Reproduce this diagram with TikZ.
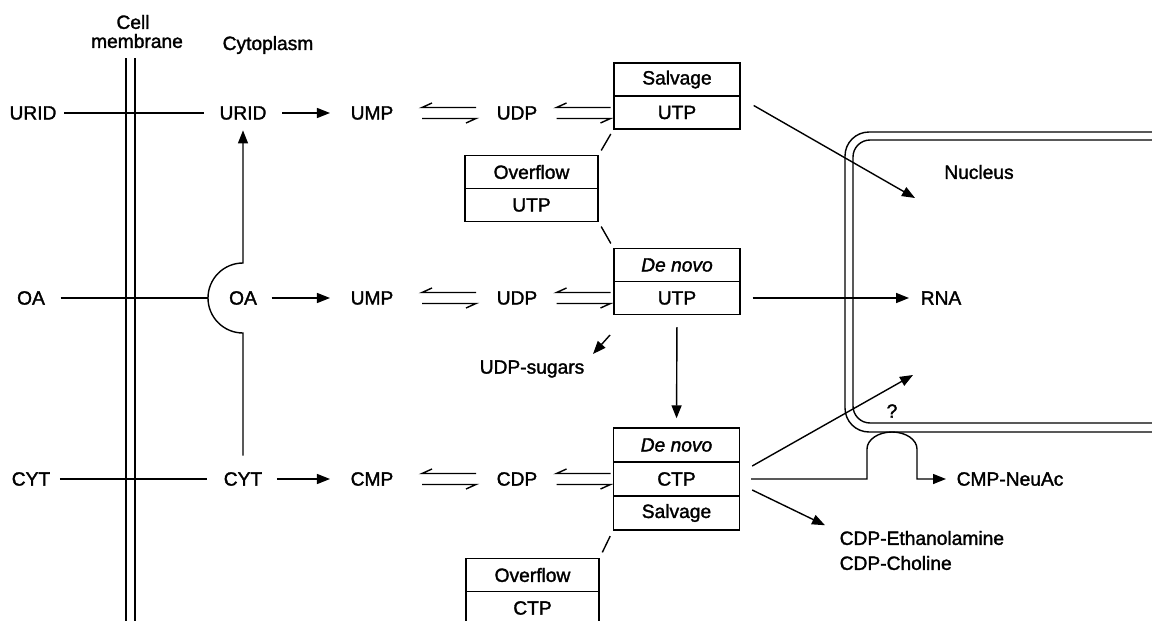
\documentclass[tikz,border=0pt]{standalone}
\usepackage{fontspec}
\setmainfont{Liberation Sans}[BoldFont=Liberation Sans,BoldFeatures={FakeBold=1.6},
  BoldItalicFont=Liberation Sans Italic,BoldItalicFeatures={FakeBold=1.6}]
\usetikzlibrary{arrows.meta,calc}
\begin{document}
\begin{tikzpicture}[x=1pt,y=1pt,line width=1.4pt,
  txt/.style={inner sep=0pt,font=\fontsize{19.2}{22}\selectfont\bfseries},
  cell/.style={draw,minimum width=126pt,minimum height=33pt,inner sep=0pt,font=\fontsize{19.2}{22}\selectfont\bfseries},
  ocell/.style={cell,minimum width=133pt},
  tcell/.style={cell,minimum height=34pt},
  arr/.style={-{Triangle[length=13pt,width=10pt]}},
  eqp/.pic={\draw (27,5.5) -- (-27,5.5) -- (-17,10);
            \draw (-27,-5.5) -- (27,-5.5) -- (17,-10);}]
\useasboundingbox (0,0) rectangle (1152,-621);
\clip (0,0) rectangle (1152,-621);

% membrane
\draw (126,-58) -- (126,-630);
\draw (135,-58) -- (135,-630);
\node[txt] (cell) at (133,-22) {Cell};
\node[txt] (membrane) at (137,-41) {membrane};
\node[txt] (cytoplasm) at (268,-45) {Cytoplasm};

% nucleus
\draw[rounded corners=24pt] (1170,-132) -- (845,-132) -- (845,-432) -- (1170,-432);
\draw[rounded corners=17pt] (1170,-140) -- (853,-140) -- (853,-423) -- (1170,-423);
\node[txt] (nucleus) at (979,-172) {Nucleus};
\node[txt] (rna) at (941,-298) {RNA};
\node[txt] (q) at (892,-411) {?};

% row 1
\node[txt] (urid0) at (33,-113) {URID};
\node[txt] (urid1) at (243,-113) {URID};
\node[txt] (ump1) at (372,-113) {UMP};
\node[txt] (udp1) at (517,-113) {UDP};
\node[cell] (salv1) at (677,-79.5) {Salvage};
\node[cell] (utp1) at (677,-112.5) {UTP};
\draw[shorten <=7pt,shorten >=15pt] (urid0.east) -- (urid1.west);
\draw[arr,shorten <=15pt,shorten >=20pt] (urid1.east) -- (ump1.west);
\pic at (449,-113) {eqp};
\pic at (583.5,-113) {eqp};

% overflow UTP
\node[ocell] (ovA) at (531.5,-172) {Overflow};
\node[ocell] (ovB) at (531.5,-205) {UTP};

% row 2
\node[txt] (oa0) at (31,-298) {OA};
\node[txt] (oa1) at (243,-298) {OA};
\node[txt] (ump2) at (372,-298) {UMP};
\node[txt] (udp2) at (517,-298) {UDP};
\node[cell] (dn2) at (677,-265) {\textit{De novo}};
\node[cell] (utp2) at (677,-298) {UTP};
\coordinate (arcL) at (208,-298);
\draw[shorten <=15pt] (oa0.east) -- (arcL);
\draw[arr,shorten <=14pt,shorten >=20pt] (oa1.east) -- (ump2.west);
\pic at (449,-298) {eqp};
\pic at (583.5,-298) {eqp};

% row 3
\node[txt] (cyt0) at (31,-479) {CYT};
\node[txt] (cyt1) at (243,-479) {CYT};
\node[txt] (cmp3) at (372,-479) {CMP};
\node[txt] (cdp3) at (517,-479) {CDP};
\node[tcell] (dn3) at (676.5,-445) {\textit{De novo}};
\node[tcell] (ctp3) at (676.5,-479) {CTP};
\node[tcell] (salv3) at (676.5,-513) {Salvage};
\draw[shorten <=9pt,shorten >=16pt] (cyt0.east) -- (cyt1.west);
\draw[arr,shorten <=14pt,shorten >=20pt] (cyt1.east) -- (cmp3.west);
\pic at (449,-479) {eqp};
\pic at (583.5,-479) {eqp};

% overflow CTP
\node[ocell] (ov2a) at (532.5,-575) {Overflow};
\node[ocell] (ov2b) at (532.5,-608) {CTP};

% connector ticks between boxes
\draw[shorten <=5pt,shorten >=5pt] (ovA.north east) -- (utp1.south west);
\draw[shorten <=5pt,shorten >=5pt] (ovB.south east) -- (dn2.north west);
\draw[shorten <=6pt,shorten >=6pt] (ov2a.north east) -- (salv3.south west);

% OA bypass to URID
\draw[arr] ([yshift=16pt]cyt1.north) -- (243,-333) arc[start angle=270,end angle=90,radius=35]
  -- ([yshift=-10pt]urid1.south);

% UTP outputs
\coordinate (nuctip) at (915,-198);
\draw[arr] ([xshift=13pt,yshift=7pt]utp1.east) -- (nuctip);
\draw[arr,shorten <=12pt,shorten >=11pt] (utp2.east) -- (rna.west);
\node[txt] (sugars) at (532,-369) {UDP-sugars};
\coordinate (sugA) at (610,-335);
\coordinate (sugB) at (593,-354);
\draw[arr] (sugA) -- (sugB);
\draw[arr,shorten <=12pt,shorten >=9pt] (utp2.south) -- (dn3.north);

% CTP outputs
\coordinate (ctpup) at (913,-375);
\draw[arr] ([xshift=12pt,yshift=13pt]ctp3.east) -- (ctpup);
\node[txt,anchor=west] (neuac) at (956,-479) {CMP-NeuAc};
\draw[arr] ([xshift=11pt]ctp3.east) -- (867,-479) -- (867,-449)
  arc[start angle=180,end angle=0,x radius=25,y radius=17] -- (917,-479) -- ([xshift=-10pt]neuac.west);
\node[txt,anchor=west] (etha) at (839,-538) {CDP-Ethanolamine};
\node[txt,anchor=west] (chol) at (839,-563) {CDP-Choline};
\draw[arr] ([xshift=12pt,yshift=-11pt]ctp3.east) -- ([xshift=-14pt,yshift=5pt]etha.north west);
\end{tikzpicture}
\end{document}
